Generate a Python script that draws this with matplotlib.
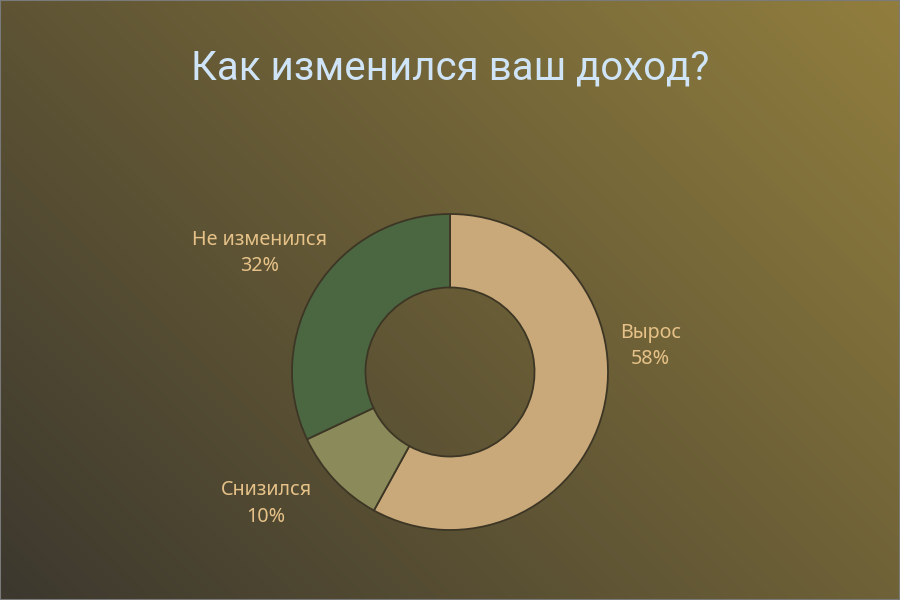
import numpy as np
import matplotlib
matplotlib.use("Agg")
import matplotlib.pyplot as plt
from matplotlib.colors import LinearSegmentedColormap
from matplotlib.patches import Rectangle

# dados
categorias = ["Вырос", "Снизился", "Не изменился"]
valores = [58, 10, 32]
cores = ["#c9a97a", "#8a8a5a", "#4a6741"]
titulo = "Как изменился ваш доход?"

# posição dos rótulos (ângulo em graus, distância em raios)
pos_rotulos = [(7.4, 1.28), (-144.5, 1.43), (148.0, 1.42)]

fig = plt.figure(figsize=(9, 6), dpi=100)

# fundo em gradiente diagonal
bg = fig.add_axes([0, 0, 1, 1])
xx, yy = np.meshgrid(np.linspace(0, 1, 300), np.linspace(0, 1, 200))
grad = (xx * 0.6 + yy * 0.4)
cmap = LinearSegmentedColormap.from_list("bg", ["#3c382e", "#917e3e"])
bg.imshow(grad, cmap=cmap, origin="lower", extent=[0, 1, 0, 1], aspect="auto")
bg.set_axis_off()

# rosca
ax = fig.add_axes([292 / 900, 70 / 600, 316 / 900, 316 / 600])
ax.pie(valores, colors=cores, startangle=90, counterclock=False,
       wedgeprops=dict(width=0.465, edgecolor="#3d3625", linewidth=1.3))
ax.set_xlim(-1, 1)
ax.set_ylim(-1, 1)
ax.set_aspect("equal")
ax.set_axis_off()

for cat, v, (ang, r) in zip(categorias, valores, pos_rotulos):
    a = np.deg2rad(ang)
    ax.text(r * np.cos(a), r * np.sin(a), f"{cat}\n{v}%", ha="center", va="center",
            fontsize=14.2, color="#e6c288", family="Noto Sans", linespacing=1.45,
            clip_on=False)

fig.text(0.5, 1 - 68 / 600, titulo, ha="center", va="center", fontsize=29,
         color="#cfe4f7", family="Roboto")

# borda fina
fig.patches.append(Rectangle((0, 0), 1, 1, transform=fig.transFigure, fill=False,
                             edgecolor="#7a7a7a", linewidth=1.5))

fig.savefig("out.png", dpi=100)
